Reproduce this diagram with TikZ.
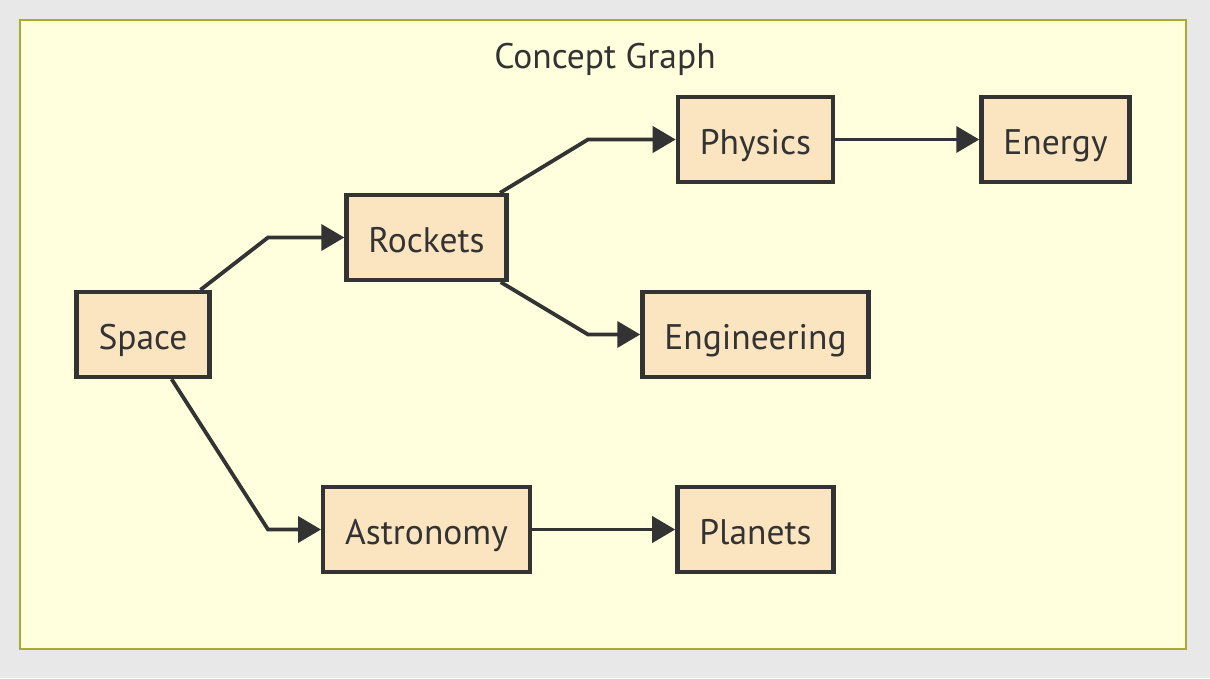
\documentclass[tikz,border=0pt]{standalone}
\usepackage{fontspec}
\setmainfont{PT Sans}
\usepackage{tikz}
\usetikzlibrary{arrows.meta}
\definecolor{pagegrey}{HTML}{E8E8E8}
\definecolor{clusterfill}{HTML}{FFFFDE}
\definecolor{clusterline}{HTML}{AAAA33}
\definecolor{conceptfill}{HTML}{FAE5C0}
\definecolor{inkdark}{HTML}{333333}
\tikzset{
  flowarrow/.style={-{Triangle[length=23pt, width=26pt]}, line width=3.8pt, draw=inkdark},
  label/.style={text=inkdark, text height=34pt, text depth=5pt, font=\fontsize{35.5}{40}\selectfont},
  concept/.style={label, draw=inkdark, line width=4.3pt, fill=conceptfill, minimum height=85pt, inner xsep=22pt}
}
\begin{document}
\begin{tikzpicture}[x=1pt, y=-1pt]
  \useasboundingbox (0,0) rectangle (1210,678);
  \fill[pagegrey] (0,0) rectangle (1210,678);
  \draw[clusterline, fill=clusterfill, line width=2.8pt] (20,20) rectangle (1186,649);
  \node[label] (title) at (605,54) {Concept Graph};
  % concepts
  \node[concept] (space) at (143,334.5) {Space};
  \node[concept] (rockets) at (426.5,237.5) {Rockets};
  \node[concept] (physics) at (755.5,139.5) {Physics};
  \node[concept] (energy) at (1055.5,139.5) {Energy};
  \node[concept] (engineering) at (755.5,334.5) {Engineering};
  \node[concept] (astronomy) at (426.5,529.5) {Astronomy};
  \node[concept] (planets) at (755.5,529.5) {Planets};
  % links
  \draw[flowarrow] (space) -- (268,237.5) -- (rockets);
  \draw[flowarrow] (space) -- (268,529.5) -- (astronomy);
  \draw[flowarrow] (rockets) -- (588,139.5) -- (physics);
  \draw[flowarrow] (rockets) -- (588,334.5) -- (engineering);
  \draw[flowarrow] (physics) -- (energy);
  \draw[flowarrow] (astronomy) -- (planets);
\end{tikzpicture}
\end{document}
